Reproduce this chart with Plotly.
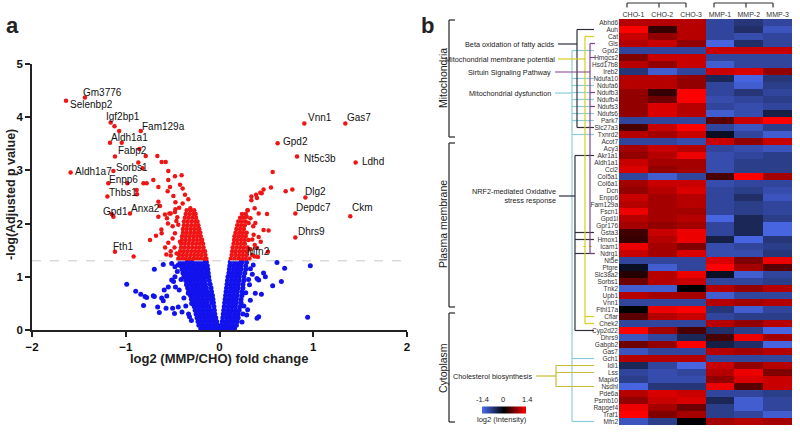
import plotly.graph_objects as go

# ---------------- DATA ----------------
# Volcano plot: labelled significant genes
label_names = ["Gm3776", "Selenbp2", "Igf2bp1", "Fam129a", "Aldh1a1", "Fabp2", "Sorbs1",
               "Aldh1a7", "Enpp6", "Thbs1", "Gpd1", "Anxa2", "Fth1",
               "Vnn1", "Gas7", "Gpd2", "Nt5c3b", "Ldhd", "Dlg2", "Depdc7", "Ckm", "Dhrs9", "Mfn2"]
label_x = [-1.435, -1.637, -1.161, -0.84, -1.043, -0.855, -0.82,
           -1.588, -1.186, -1.196, -1.132, -0.955, -1.115,
           0.905, 1.342, 0.62, 0.827, 1.452, 0.916, 0.809, 1.395, 0.809, 0.517]
label_y = [4.37, 4.31, 3.90, 3.74, 3.52, 3.40, 3.04,
           2.96, 2.76, 2.51, 2.13, 2.19, 1.47,
           3.88, 3.88, 3.51, 3.26, 3.15, 2.49, 2.19, 2.14, 1.74, 1.47]

# other significant (red) points
red_x = [-1.12, -1.07, -1.168, -1.115, -0.787, -0.663, -0.617, -0.574, -0.866, -1.132,
         -0.546, -0.475, -0.404, -0.546, -0.706, -0.811, -0.777, -0.983, -0.652, -0.528,
         -0.421, -0.393, -0.553, -0.884, -0.88, -0.492, -0.368, -0.333, -0.652, -0.393,
         -0.635, -0.311, -1.15, -0.535, -0.475, -0.582, -0.652, -0.677, -0.617, -0.741,
         -0.475, -0.546, -0.421, -0.567, -0.916, -0.457, -0.50, -0.46, -0.55, -0.48,
         -0.52, -0.45, -0.43, -0.47, -0.62, -0.56, -0.52, -0.47, -0.44, -0.50, -0.58, -0.52,
         0.567, 0.549, 0.706, 0.777, 0.34, 0.39, 0.435, 0.47, 0.45, 0.40, 0.34, 0.375,
         0.418, 0.507, 0.29, 0.382, 0.311, 0.47, 0.524, 0.364, 0.418, 0.376, 0.40, 0.41,
         0.375, 0.347, 0.30, 0.33, 0.36, 0.44, 0.35, 0.33]
red_y = [3.83, 3.74, 3.52, 3.26, 3.27, 3.27, 3.16, 3.16, 3.15, 2.99,
         2.99, 2.89, 2.91, 2.82, 2.82, 2.76, 2.76, 2.76, 2.69, 2.69,
         2.73, 2.66, 2.61, 2.63, 2.55, 2.52, 2.54, 2.46, 2.41, 2.38,
         2.33, 2.29, 2.18, 2.19, 2.22, 2.17, 2.13, 1.77, 1.82, 1.69,
         1.82, 1.64, 1.66, 1.42, 1.38, 1.44, 1.95, 2.05, 2.00, 1.55,
         1.48, 2.12, 2.30, 2.40, 1.89, 2.10, 2.19, 2.27, 1.98, 1.72, 1.55, 1.40,
         2.97, 2.68, 2.61, 2.64, 2.51, 2.54, 2.58, 2.64, 2.57, 2.48, 2.44, 2.29,
         2.19, 2.18, 2.13, 2.01, 2.01, 1.88, 1.87, 1.79, 1.75, 1.60, 1.54, 1.37,
         1.38, 1.41, 2.25, 2.10, 1.95, 1.66, 1.70, 1.52]

# dense significant core, read row by row (y level, x values)
red_core_y = [1.34, 1.41, 1.48, 1.55, 1.62, 1.69, 1.76, 1.83, 1.90, 1.97, 2.04, 2.11, 2.18, 2.25]
red_core_x = [
    [-0.44, -0.40, -0.36, -0.32, -0.28, -0.24, -0.20, -0.16, -0.14, 0.12, 0.16, 0.20, 0.24, 0.28, 0.32],
    [-0.43, -0.39, -0.35, -0.31, -0.27, -0.23, -0.19, -0.15, 0.13, 0.17, 0.21, 0.25, 0.29],
    [-0.42, -0.38, -0.34, -0.30, -0.26, -0.22, -0.18, -0.155, 0.135, 0.17, 0.21, 0.25, 0.29],
    [-0.41, -0.37, -0.33, -0.29, -0.25, -0.21, -0.17, 0.14, 0.18, 0.22, 0.26, 0.30],
    [-0.41, -0.37, -0.33, -0.29, -0.25, -0.21, -0.175, 0.15, 0.19, 0.23, 0.27],
    [-0.40, -0.36, -0.32, -0.28, -0.24, -0.20, -0.185, 0.155, 0.19, 0.23, 0.27, 0.31],
    [-0.40, -0.36, -0.32, -0.28, -0.24, -0.20, 0.16, 0.20, 0.24, 0.28],
    [-0.39, -0.35, -0.31, -0.27, -0.23, -0.205, 0.17, 0.21, 0.25, 0.29],
    [-0.39, -0.35, -0.31, -0.27, -0.23, -0.215, 0.18, 0.22, 0.26],
    [-0.38, -0.34, -0.30, -0.26, -0.225, 0.19, 0.23, 0.27],
    [-0.38, -0.34, -0.30, -0.26, -0.235, 0.20, 0.24, 0.28],
    [-0.37, -0.33, -0.29, -0.25, 0.22, 0.26],
    [-0.36, -0.32, -0.28, -0.255, 0.24, 0.28],
    [-0.35, -0.31, -0.27, 0.30],
]

# non-significant (blue) scattered points
blue_x = [-0.695, -0.99, -0.894, -0.795, -0.777, -0.706, -0.695, -0.81, -0.59, -0.563,
          -0.617, -0.60, -0.546, -0.51, -0.475, -0.57, -0.642, -0.50, -0.44, -0.475,
          -0.51, -0.333, -0.297, -0.60, -0.49, -0.47, -0.40, -0.48, -0.66, -0.84,
          -0.45, -0.43, -0.38, -0.36, -0.33, -0.30, -0.44, -0.41, -0.35, -0.32,
          0.613, 0.695, 0.969, 0.66, 0.567, 0.47, 0.489, 0.418, 0.40, 0.382,
          0.329, 0.418, 0.40, 0.94, 0.29, 0.447, 0.30, 0.33, 0.35, 0.32,
          0.28, 0.26, 0.36, 0.31, 0.25, 0.24]
blue_y = [1.14, 0.86, 0.73, 0.63, 0.61, 0.645, 0.63, 0.46, 0.75, 0.64,
          0.60, 0.55, 0.81, 0.94, 1.00, 0.41, 0.33, 0.41, 0.43, 1.19,
          1.25, 0.69, 0.50, 1.23, 0.91, 0.81, 0.34, 0.31, 0.43, 0.67,
          1.10, 0.75, 0.60, 0.45, 0.30, 0.18, 1.22, 0.95, 0.85, 0.25,
          1.27, 1.16, 1.21, 0.91, 0.83, 1.07, 1.00, 0.94, 0.97, 0.69,
          0.56, 0.25, 0.22, 0.24, 0.28, 0.67, 0.38, 1.15, 1.05, 0.85,
          0.70, 0.45, 1.22, 0.95, 0.30, 0.15]

# dense non-significant core (the "V"), read row by row
blue_core_y = [0.03, 0.09, 0.16, 0.23, 0.30, 0.37, 0.44, 0.51, 0.58, 0.65,
               0.72, 0.79, 0.86, 0.93, 1.00, 1.07, 1.14, 1.21, 1.28]
blue_core_x = [
    [-0.20, -0.16, -0.12, -0.08, -0.04, -0.01, 0.01, 0.04, 0.08, 0.12, 0.16],
    [-0.22, -0.18, -0.14, -0.10, -0.06, -0.02, 0.02, 0.06, 0.10, 0.14, 0.18],
    [-0.23, -0.19, -0.15, -0.11, -0.07, -0.03, 0.03, 0.07, 0.11, 0.15, 0.19],
    [-0.24, -0.20, -0.16, -0.12, -0.08, -0.04, 0.035, 0.08, 0.12, 0.16, 0.20],
    [-0.25, -0.21, -0.17, -0.13, -0.09, -0.05, 0.04, 0.08, 0.12, 0.16, 0.20],
    [-0.26, -0.22, -0.18, -0.14, -0.10, -0.055, 0.045, 0.09, 0.13, 0.17, 0.21],
    [-0.27, -0.23, -0.19, -0.15, -0.11, -0.06, 0.05, 0.09, 0.13, 0.17, 0.22],
    [-0.29, -0.25, -0.21, -0.17, -0.13, -0.08, -0.065, 0.055, 0.10, 0.14, 0.18, 0.23],
    [-0.30, -0.26, -0.22, -0.18, -0.14, -0.10, -0.07, 0.06, 0.10, 0.14, 0.18, 0.23],
    [-0.31, -0.27, -0.23, -0.19, -0.15, -0.11, -0.075, 0.065, 0.11, 0.15, 0.19, 0.24],
    [-0.33, -0.29, -0.25, -0.21, -0.17, -0.13, -0.085, 0.07, 0.11, 0.15, 0.19, 0.24],
    [-0.34, -0.30, -0.26, -0.22, -0.18, -0.14, -0.09, 0.075, 0.12, 0.16, 0.20, 0.25],
    [-0.35, -0.31, -0.27, -0.23, -0.19, -0.15, -0.10, 0.08, 0.12, 0.16, 0.20, 0.25],
    [-0.36, -0.32, -0.28, -0.24, -0.20, -0.16, -0.11, 0.085, 0.13, 0.17, 0.21, 0.26],
    [-0.38, -0.34, -0.30, -0.26, -0.22, -0.18, -0.14, -0.115, 0.09, 0.13, 0.17, 0.21, 0.26],
    [-0.39, -0.35, -0.31, -0.27, -0.23, -0.19, -0.15, -0.12, 0.10, 0.14, 0.18, 0.22, 0.27],
    [-0.40, -0.36, -0.32, -0.28, -0.24, -0.20, -0.16, -0.125, 0.105, 0.15, 0.19, 0.23, 0.28],
    [-0.41, -0.37, -0.33, -0.29, -0.25, -0.21, -0.17, -0.13, 0.11, 0.15, 0.19, 0.23, 0.28],
    [-0.42, -0.38, -0.34, -0.30, -0.26, -0.22, -0.18, -0.14, 0.115, 0.16, 0.20, 0.24, 0.29],
]

volcano_xticks = [-2, -1, 0, 1, 2]
volcano_yticks = [0, 1, 2, 3, 4, 5]
p_threshold = 1.3

# Heatmap
samples = ["CHO-1", "CHO-2", "CHO-3", "MMP-1", "MMP-2", "MMP-3"]
genes = ["Abhd6", "Auh", "Cat", "Gls", "Gpd2", "Hmgcs2", "Hsd17b8", "Ireb2", "Ndufa10", "Ndufa6",
         "Ndufb3", "Ndufb4", "Ndufs3", "Ndufs6", "Park7", "Slc27a3", "Txnrd2",
         "Acot7", "Acy3", "Akr1a1", "Aldh1a1", "Ccl2", "Col5a1", "Col6a1", "Dcn", "Enpp6",
         "Fam129a", "Fscn1", "Gpd1l", "Gpr176", "Gsta3", "Hmox1", "Icam1", "Ndrg1", "Nt5e",
         "Ptgre", "Slc38a2", "Sorbs1", "Tnk2", "Upb1", "Vnn1", "Fthl17a", "Cflar", "Chek2",
         "Cyp2d22", "Dhrs9", "Gabpb2", "Gas7", "Gch1", "Idi1", "Lss", "Mapk6", "Nsdhl",
         "Pde6a", "Psmb10", "Rapgef4", "Traf1", "Mfn2"]
intensity = [
    [1.0, 1.0, 1.0, -0.9, -0.7, -0.9],
    [1.4, 0.3, 1.0, -0.9, -0.6, -1.1],
    [1.1, 0.8, 1.0, -0.9, -1.0, -0.9],
    [1.0, 1.1, 0.8, -1.3, -0.6, -0.9],
    [-0.9, -0.9, -0.9, 1.1, 1.1, 1.1],
    [0.7, 1.1, 1.1, -0.9, -0.9, -0.9],
    [1.0, 0.8, 1.1, -1.2, -0.9, -0.9],
    [-0.7, -1.2, -0.9, 1.1, 1.2, 0.8],
    [1.0, 1.0, 0.8, -0.5, -1.3, -0.7],
    [1.0, 1.0, 0.8, -0.9, -1.2, -0.8],
    [0.8, 0.3, 1.4, -0.9, -0.7, -0.9],
    [0.8, 0.6, 1.4, -1.0, -0.9, -0.8],
    [0.8, 1.2, 1.0, -0.9, -1.0, -0.9],
    [0.8, 1.2, 1.0, -1.2, -1.0, -0.4],
    [-0.9, -0.9, -0.9, 0.5, 1.1, 1.4],
    [0.4, 1.1, 1.4, -0.9, -1.1, -0.8],
    [1.0, 0.9, 1.1, -0.2, -0.9, -1.2],
    [-0.9, -0.9, -1.0, 1.1, 0.8, 1.1],
    [0.9, 1.1, 1.0, -0.9, -1.0, -1.1],
    [0.8, 1.0, 1.3, -1.0, -0.9, -0.8],
    [1.1, 0.9, 0.9, -1.0, -0.8, -0.8],
    [1.2, 0.8, 0.9, -1.0, -0.8, -0.8],
    [-0.9, -1.2, -0.9, 0.4, 1.4, 0.9],
    [0.9, 1.1, 1.1, -1.0, -0.9, -0.9],
    [0.8, 1.0, 1.2, -0.9, -0.8, -1.0],
    [1.1, 0.9, 1.0, -0.9, -0.6, -1.1],
    [1.0, 0.9, 1.0, -0.9, -0.8, -0.9],
    [1.3, 0.9, 0.9, -0.9, -0.8, -0.9],
    [1.0, 0.9, 1.0, -1.3, -0.5, -0.8],
    [0.9, 0.8, 0.9, -0.9, -0.5, -1.3],
    [0.35, 1.1, 1.3, -0.9, -0.5, -1.3],
    [0.3, 1.0, 1.3, -0.4, -1.3, -0.7],
    [1.3, 0.9, 0.7, -1.0, -0.9, -0.8],
    [1.1, 0.9, 1.2, -1.0, -1.0, -0.7],
    [-0.9, -0.9, -0.9, 1.2, 0.7, 1.3],
    [-0.2, -1.2, -0.9, 1.4, 0.9, 0.5],
    [0.2, 1.0, 1.3, -0.2, -1.2, -0.9],
    [0.6, 1.0, 1.1, -0.9, -0.9, -0.8],
    [-1.2, -1.2, 0.0, 1.0, 0.8, 1.0],
    [1.0, 0.9, 0.9, -1.2, -0.9, -0.9],
    [-0.9, -0.9, -0.9, 1.0, 0.9, 1.0],
    [0.0, 1.3, 1.4, -0.7, -1.2, -0.9],
    [0.5, 1.0, 1.1, -0.9, -0.8, -0.8],
    [-0.9, -0.9, -0.9, 1.0, 0.8, 1.0],
    [1.4, 0.9, 0.4, -0.6, -0.8, -1.3],
    [-1.1, -0.9, -0.5, 0.4, 1.3, 0.9],
    [0.6, 0.8, 1.4, -0.4, -0.6, -1.3],
    [-1.1, -0.9, -0.9, 1.0, 0.9, 1.0],
    [1.0, 1.0, 1.0, -0.9, -0.9, -0.9],
    [-0.5, -0.9, -1.3, 1.1, 0.8, 1.0],
    [-0.9, -1.0, -0.9, 1.0, 1.3, 0.7],
    [-0.8, -1.0, -1.0, 0.8, 1.2, 1.1],
    [-1.3, -0.7, -0.7, 1.3, 0.5, 1.1],
    [1.0, 1.2, 1.1, -0.9, -0.9, -0.8],
    [0.8, 1.1, 1.2, -0.5, -1.2, -0.9],
    [1.3, 0.9, 0.6, -0.8, -1.2, -0.9],
    [1.4, 0.7, 0.9, -0.8, -0.9, -1.2],
    [-1.1, -0.8, 0.0, 0.9, 1.0, 0.9],
]
color_min, color_max = -1.4, 1.4

# ---------------- STYLE / LAYOUT ----------------
W, H = 800, 436
FONT = "Arial, Liberation Sans, sans-serif"
BLUE = "#1212ee"
RED = "#f01414"


def px(x):
    return x / W


def py(y):
    return 1 - y / H


# label offsets in pixels (text left edge / vertical centre relative to point)
label_dx = [-3.7, 2.3, -6.3, -0.7, -12.3, -23, -28.3, 2.7, -1, 0, -12.7, -0.7, -4.3,
            2, 0, 3, 4.7, 4.3, -2.7, -1, -0.3, 1, -23.3]
label_dy = [4.7, -3.7, 5.7, 4.3, 5.3, -1.7, 0.7, 1, 3.7, 4, 5.3, 5, 5.7,
            5.7, 5.7, 1.3, -2, 1.3, 5.7, 6, 8.3, 6.3, 0.7]

bx, by = [], []
for yv, xs in zip(blue_core_y, blue_core_x):
    bx += xs
    by += [yv] * len(xs)
bx += blue_x
by += blue_y

rx, ry = [], []
for yv, xs in zip(red_core_y, red_core_x):
    rx += xs
    ry += [yv] * len(xs)
rx += red_x + label_x
ry += red_y + label_y

fig = go.Figure()
fig.add_trace(go.Scatter(x=bx, y=by, mode="markers", xaxis="x", yaxis="y",
                         marker=dict(color=BLUE, size=5, line=dict(width=0)),
                         showlegend=False, hoverinfo="skip"))
fig.add_trace(go.Scatter(x=rx, y=ry, mode="markers", xaxis="x", yaxis="y",
                         marker=dict(color=RED, size=4.5, line=dict(width=0)),
                         showlegend=False, hoverinfo="skip"))

fig.add_trace(go.Heatmap(
    z=intensity, x=list(range(len(samples))), y=list(range(len(genes))),
    xaxis="x2", yaxis="y2", zmin=color_min, zmax=color_max,
    colorscale=[[0, "#4c6cf2"], [0.5, "#000000"], [1, "#ff0000"]],
    showscale=True,
    colorbar=dict(orientation="h", x=px(504), xanchor="center", y=py(409.5), yanchor="middle",
                  len=44, lenmode="pixels", thickness=7, thicknessmode="pixels",
                  showticklabels=False, ticks="", outlinewidth=0, xpad=0, ypad=0),
    hoverinfo="skip"))

axis_common = dict(showgrid=False, zeroline=False, showline=True, linecolor="#222",
                   linewidth=1.5, ticks="outside", ticklen=5, tickwidth=1.5, tickcolor="#222",
                   automargin=False,
                   tickfont=dict(family=FONT, size=11.5, color="#111", weight="bold"))

fig.update_layout(
    width=W, height=H, margin=dict(l=0, r=0, t=0, b=0, autoexpand=False),
    paper_bgcolor="white", plot_bgcolor="white",
    xaxis=dict(domain=[px(32), px(407)], range=[-2, 2], tickvals=volcano_xticks,
               **axis_common),
    yaxis=dict(domain=[py(330), py(64)], range=[0, 5], tickvals=volcano_yticks,
               **axis_common),
    xaxis2=dict(domain=[px(619), px(792)], range=[-0.5, 5.5], side="top", anchor="y2",
                tickvals=list(range(len(samples))), ticktext=samples, ticks="",
                showgrid=False, zeroline=False, showline=False, automargin=False,
                tickfont=dict(family=FONT, size=7, color="#333")),
    yaxis2=dict(domain=[py(425), py(19)], range=[len(genes) - 0.5, -0.5], anchor="x2",
                tickvals=list(range(len(genes))), ticktext=genes, ticks="",
                showgrid=False, zeroline=False, showline=False, automargin=False,
                tickfont=dict(family=FONT, size=6.5, color="#333")),
)

shapes = []
# threshold line
shapes.append(dict(type="line", xref="x", yref="y", x0=-2, x1=2.01, y0=p_threshold, y1=p_threshold,
                   line=dict(color="#c8c8c8", width=1, dash="dash")))


def hline(x0, x1, y, color, yref="paper", width=1.2, dash="solid"):
    yy = py(y) if yref == "paper" else y
    shapes.append(dict(type="line", xref="paper", yref=yref, x0=px(x0), x1=px(x1), y0=yy, y1=yy,
                       line=dict(color=color, width=width, dash=dash)))


def vline(x, y0, y1, color, yref="paper", width=1.2):
    a = py(y0) if yref == "paper" else y0
    b = py(y1) if yref == "paper" else y1
    shapes.append(dict(type="line", xref="paper", yref=yref, x0=px(x), x1=px(x), y0=a, y1=b,
                       line=dict(color=color, width=width)))


G = {g: i for i, g in enumerate(genes)}
DARK, YEL, PUR, CYAN, OLIVE = "#30303c", "#d8ce1c", "#84408c", "#8ccbdb", "#c8bb36"
TICK_END = 594

# column group brackets
for xa, xm, xb in [(627, 659, 686), (714, 746, 773)]:
    hline(xa, xb, 3, "#333", width=1.2)
    for xx in (xa, xm, xb):
        vline(xx, 3, 7.5, "#333", width=1.2)

# compartment brackets
for y0, y1 in [(20, 137), (143, 307), (313, 422)]:
    vline(449, y0, y1, "#333", width=1.3)
    hline(449, 455, y0, "#333", width=1.3)
    hline(449, 455, y1, "#333", width=1.3)

# Mitochondrial dysfunction (cyan)
hline(555, 572, 93, CYAN)
vline(572, G["Gpd2"], G["Mfn2"], CYAN, yref="y2")
for g in ["Gpd2", "Ndufa10", "Ndufa6", "Ndufb3", "Ndufb4", "Ndufs3", "Ndufs6", "Park7",
          "Txnrd2", "Gch1", "Mfn2"]:
    hline(572, TICK_END, G[g], CYAN, yref="y2")
# NRF2 (dark)
hline(559, 575, 196, DARK)
vline(575, G["Akr1a1"], G["Cyp2d22"], DARK, yref="y2")
for g in ["Akr1a1", "Gsta3", "Hmox1", "Ndrg1", "Cyp2d22"]:
    hline(575, TICK_END, G[g], DARK, yref="y2")
# Beta oxidation (dark)
hline(558, 577, 44, DARK)
vline(577, G["Auh"], G["Slc27a3"], DARK, yref="y2")
for g in ["Auh", "Slc27a3"]:
    hline(577, TICK_END, G[g], DARK, yref="y2")
# Mitochondrial membrane potential (yellow)
hline(558, 585, 59, YEL)
vline(585, G["Cat"], G["Chek2"], YEL, yref="y2")
for g in ["Cat", "Cflar", "Chek2"]:
    hline(585, TICK_END, G[g], YEL, yref="y2")
hline(583, TICK_END, G["Icam1"], YEL, yref="y2", dash="dot")
# Sirtuin signalling (purple)
hline(555, 590, 72, PUR)
vline(590, G["Gls"], G["Ndrg1"], PUR, yref="y2")
for g in ["Gls", "Hmgcs2", "Ndufb3", "Ndufs3", "Ndrg1"]:
    hline(590, TICK_END + 1, G[g], PUR, yref="y2")
# Cholesterol biosynthesis (olive)
hline(536, 556, 376, OLIVE)
vline(556, G["Idi1"], G["Nsdhl"], OLIVE, yref="y2")
for g in ["Idi1", "Lss", "Nsdhl"]:
    hline(556, TICK_END, G[g], OLIVE, yref="y2")

fig.update_layout(shapes=shapes)

ann = []
for n, x, y, dx, dy in zip(label_names, label_x, label_y, label_dx, label_dy):
    ann.append(dict(x=x, y=y, xref="x", yref="y", text=n, showarrow=False, xanchor="left",
                    yanchor="middle", xshift=dx, yshift=dy,
                    font=dict(family=FONT, size=10, color="#111")))


def text(x, y, t, size=7.3, anchor="center", angle=0, bold=False, color="#222", align="center"):
    ann.append(dict(x=px(x), y=py(y), xref="paper", yref="paper", text=t, showarrow=False,
                    xanchor=anchor, yanchor="middle", textangle=angle, align=align,
                    font=dict(family=FONT, size=size, color=color,
                              weight="bold" if bold else "normal")))


text(12, 26, "a", size=22, bold=True)
text(419, 26, "b", size=22, bold=True, anchor="left")
text(219.5, 358, "log2 (MMP/CHO) fold change", size=13, bold=True)
text(11, 195, "-log(Adjusted p value)", size=12.5, bold=True, angle=-90)

text(443, 78, "Mitochondria", size=10.5, angle=-90)
text(443, 224, "Plasma membrane", size=10.5, angle=-90)
text(443, 368, "Cytoplasm", size=10.5, angle=-90)

text(557, 44, "Beta oxidation of fatty acids", anchor="right")
text(557, 59, "Mitochondrial membrane potential", anchor="right")
text(553, 72, "Sirtuin Signaling Pathway", anchor="right")
text(553, 93, "Mitochondrial dysfunction", anchor="right")
text(558, 196, "NRF2-mediated Oxidative<br>stress response", anchor="right", align="right")
text(534, 376, "Cholesterol biosynthesis", anchor="right")

text(482, 399, "-1.4", size=7.5)
text(503, 399, "0", size=7.5)
text(527, 399, "1.4", size=7.5)
text(502, 419, "log2 (Intensity)", size=7.5)

fig.update_layout(annotations=ann)
fig.write_html("out.html", config={"displayModeBar": False},
               post_script="document.body.style.margin='0px';document.body.style.padding='0px';")
